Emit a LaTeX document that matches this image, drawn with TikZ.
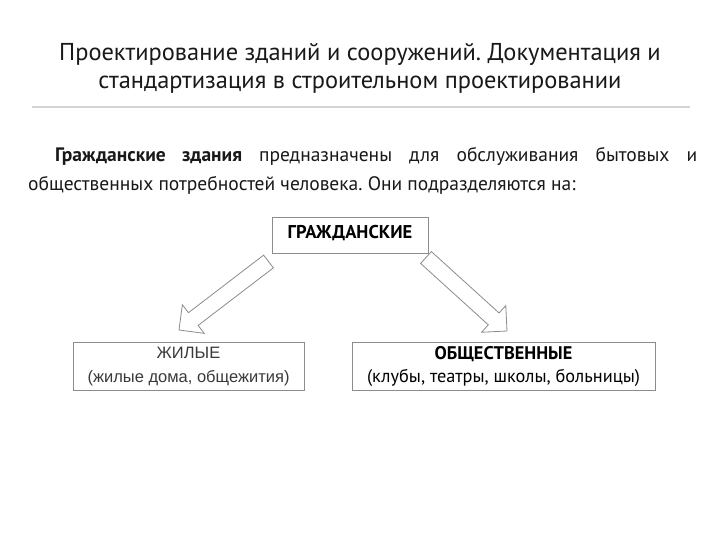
\documentclass[tikz,border=0pt]{standalone}
\usepackage{fontspec}
\setmainfont{PT Sans}
\newfontfamily\arialfont{Liberation Sans}
\usetikzlibrary{calc}

\definecolor{boxgray}{HTML}{8C8C8C}
\definecolor{rulegray}{HTML}{D4D4D4}
\definecolor{textgray}{HTML}{3A3A3A}

\tikzset{
  kindbox/.style={draw=boxgray, line width=0.9pt, inner sep=0pt, align=center},
  blockarrow/.style={draw=boxgray, line width=0.8pt, fill=white, line join=miter}
}

% block arrow from tail #1 to tip #2
\newcommand\blockarrow[2]{%
  \coordinate (hb) at ($(#2)!18pt!(#1)$);
  \draw[blockarrow] ($(#1)!8pt!90:(#2)$) -- ($(hb)!8pt!90:(#2)$)
    -- ($(hb)!18pt!90:(#2)$) -- (#2) -- ($(hb)!18pt!-90:(#2)$)
    -- ($(hb)!8pt!-90:(#2)$) -- ($(#1)!8pt!-90:(#2)$) -- cycle;}

\frenchspacing
\begin{document}
\begin{tikzpicture}[x=1pt, y=-1pt]
	\useasboundingbox[fill=white] (0,0) rectangle (720,540);

	% Title
	\node (title) at (360,68) [align=center, font=\fontsize{24.4}{28}\selectfont, text=black!90]
		{Проектирование зданий и сооружений. Документация и\\
		 стандартизация в строительном проектировании};
	\draw[rulegray, line width=1.5pt] (32,107) -- (690,107); % rule under title

	% Text
	\node (intro) at (28,147) [anchor=north west, text width=669pt, inner sep=0pt, align=justify,
		font=\fontsize{19.5}{29}\selectfont, text=black!90]
		{\hspace*{27pt}\textbf{Гражданские здания} предназначены для обслуживания бытовых и
		 общественных потребностей человека. Они подразделяются на:};

	% Boxes
	\node[kindbox, minimum width=156pt, minimum height=36pt, text depth=7pt,
		font=\fontsize{18.5}{18}\selectfont\bfseries] (civil) at (350,235) {ГРАЖДАНСКИЕ};
	\node[kindbox, minimum width=231pt, minimum height=48pt,
		font=\arialfont\fontsize{16.5}{23.5}\selectfont, text=textgray] (living) at (188.5,366.5)
		{ЖИЛЫЕ\\(жилые дома, общежития)};
	\node[kindbox, minimum width=303pt, minimum height=48pt,
		font=\fontsize{18.3}{23}\selectfont] (public) at (503.5,366)
		{\textbf{ОБЩЕСТВЕННЫЕ}\\(клубы, театры, школы, больницы)};

	% Arrows
	\coordinate (lstart) at (268.5,261.5);
	\coordinate (lend) at (179,330);
	\coordinate (rstart) at (426,257.5);
	\coordinate (rend) at (507,331);
	\blockarrow{lstart}{lend}
	\blockarrow{rstart}{rend}
\end{tikzpicture}
\end{document}
